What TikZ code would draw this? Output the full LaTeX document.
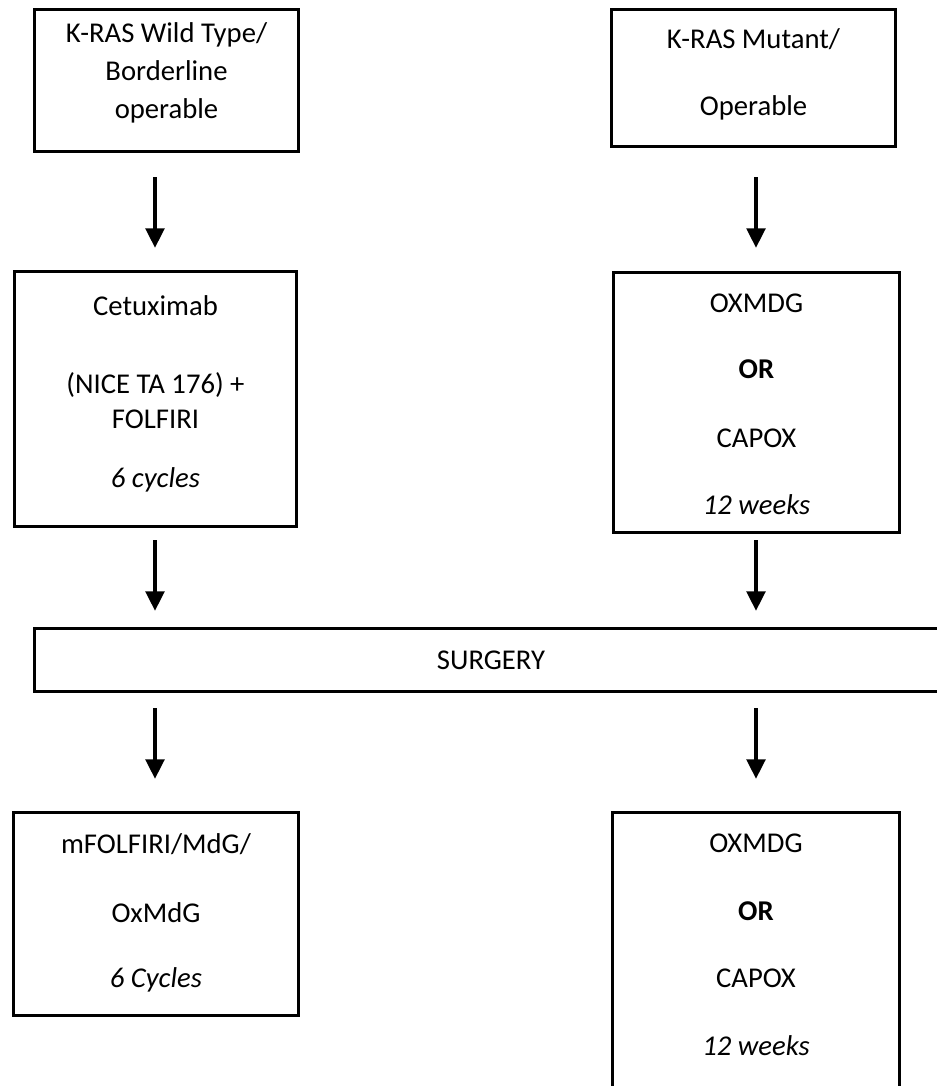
\documentclass[tikz,border=0pt]{standalone}
\usepackage{fontspec}
\setmainfont{Carlito}
\usetikzlibrary{arrows.meta}
\begin{document}
\begin{tikzpicture}[x=0.75pt,y=-0.75pt,
  box/.style={draw, line width=2.6pt, inner sep=0pt},
  txt/.style={anchor=base, inner sep=0pt, font=\fontsize{21.5}{26}\selectfont},
  arr/.style={line width=2.4pt, -{Triangle[length=14.5pt,width=14pt]}}]
\useasboundingbox[fill=white] (0,0) rectangle (937,1086);
\coordinate (L) at (155,0);
\coordinate (R) at (756,0);
% boxes
\node[box, minimum width=198pt, minimum height=106.5pt] (b1) at (166.5,80.5) {};
\node[box, minimum width=213pt, minimum height=102.75pt] (b2) at (753.5,78) {};
\node[box, minimum width=211.5pt, minimum height=191.25pt] (b3) at (155.5,399) {};
\node[box, minimum width=214.5pt, minimum height=195pt] (b4) at (756.5,402.5) {};
\node[box, minimum width=693pt, minimum height=47.25pt] (s) at (496.5,660) {};
\node[box, minimum width=213.75pt, minimum height=152.25pt] (b5) at (156,914) {};
\node[box, minimum width=215.25pt, minimum height=222pt] (b6) at (756,960.5) {};
% texts
\node[txt] (t11) at (166.5,42) {K-RAS Wild Type/};
\node[txt] (t12) at (166.5,80) {Borderline};
\node[txt] (t13) at (166.5,118) {operable};
\node[txt] (t21) at (753.5,48) {K-RAS Mutant/};
\node[txt] (t22) at (753.5,115) {Operable};
\node[txt] (t31) at (155.5,315) {Cetuximab};
\node[txt] (t32) at (155.5,393) {(NICE TA 176) +};
\node[txt] (t33) at (155.5,428) {FOLFIRI};
\node[txt] (t34) at (155.5,487) {\itshape 6 cycles};
\node[txt] (t41) at (756.5,312) {OXMDG};
\node[txt] (t42) at (756.5,378) {\bfseries OR};
\node[txt] (t43) at (756.5,447) {CAPOX};
\node[txt] (t44) at (756.5,514) {\itshape 12 weeks};
\node[txt] (ts) at (491,669) {SURGERY};
\node[txt] (t51) at (156,853) {mFOLFIRI/MdG/};
\node[txt] (t52) at (156,922) {OxMdG};
\node[txt] (t53) at (156,987) {\itshape 6 Cycles};
\node[txt] (t61) at (756,852) {OXMDG};
\node[txt] (t62) at (756,920) {\bfseries OR};
\node[txt] (t63) at (756,987) {CAPOX};
\node[txt] (t64) at (756,1055) {\itshape 12 weeks};
% arrows
\draw[arr, shorten <=18pt, shorten >=16.5pt] (b1.south -| L) -- (b3.north -| L);
\draw[arr, shorten <=21.75pt, shorten >=17.25pt] (b2.south -| R) -- (b4.north -| R);
\draw[arr, shorten <=9pt, shorten >=12pt] (b3.south -| L) -- (s.north -| L);
\draw[arr, shorten <=4.5pt, shorten >=12pt] (b4.south -| R) -- (s.north -| R);
\draw[arr, shorten <=11.25pt, shorten >=24pt] (s.south -| L) -- (b5.north -| L);
\draw[arr, shorten <=11.25pt, shorten >=24pt] (s.south -| R) -- (b6.north -| R);
\end{tikzpicture}
\end{document}
